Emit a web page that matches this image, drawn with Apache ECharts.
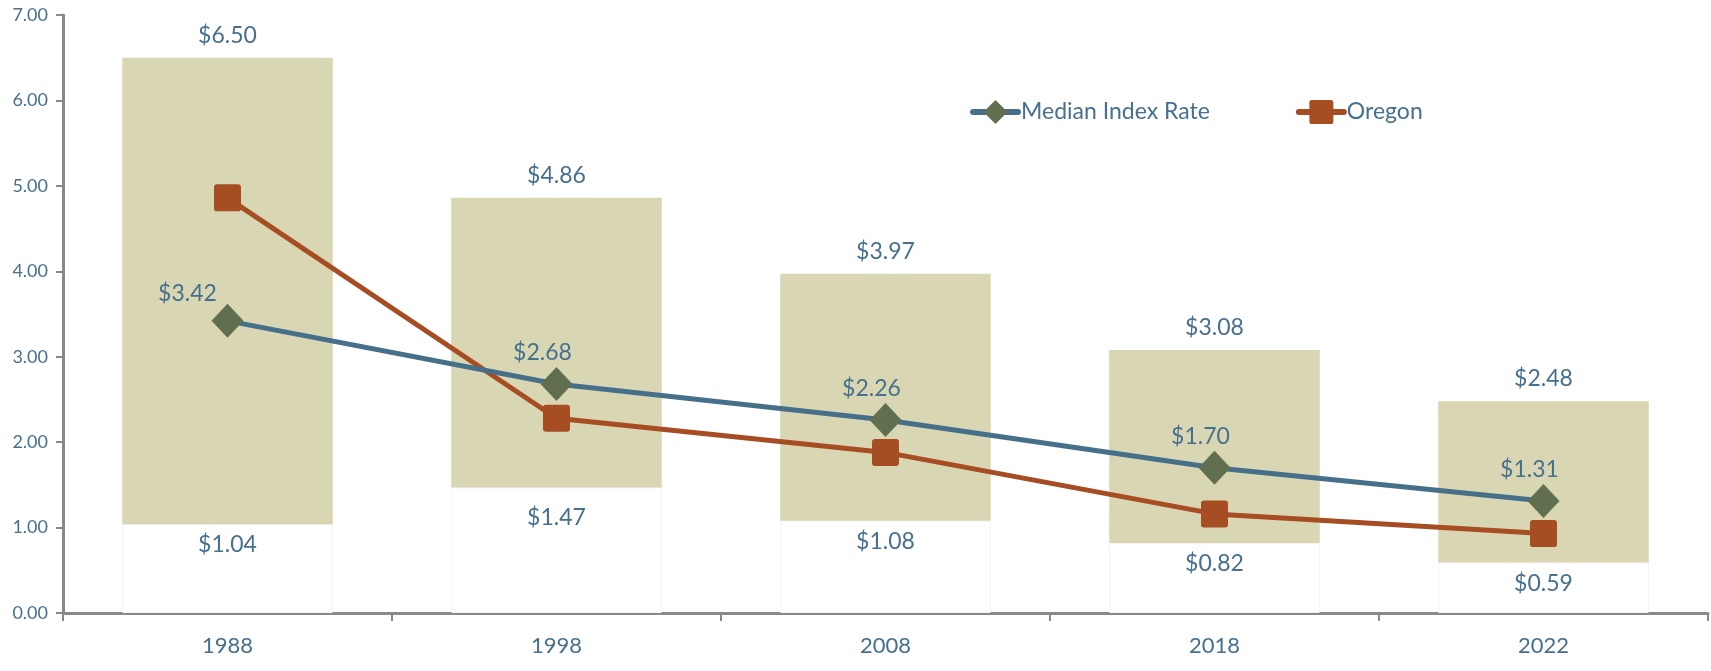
<!DOCTYPE html>
<html><head><meta charset="utf-8">
<script src="https://cdn.jsdelivr.net/npm/echarts@6/dist/echarts.min.js"></script>
<style>html,body{margin:0;padding:0;background:#fff}#c{width:1711px;height:671px}</style>
</head><body><div id="c"></div>
<script>
const categories = ['1988', '1998', '2008', '2018', '2022'];
const rangeMin = [1.04, 1.47, 1.08, 0.82, 0.59];
const rangeMax = [6.50, 4.86, 3.97, 3.08, 2.48];
const medianRate = [3.42, 2.68, 2.26, 1.70, 1.31];
const oregon = [4.86, 2.28, 1.88, 1.16, 0.93];
const yTicks = [0, 1, 2, 3, 4, 5, 6, 7];

const TXT = '#46708E';
const FONT = 'Lato';
const chart = echarts.init(document.getElementById('c'));
chart.setOption({
  animation: false,
  textStyle: { fontFamily: FONT },
  grid: { left: 63, right: 3, top: 15, bottom: 58 },
  legend: {
    data: ['Median Index Rate', 'Oregon'],
    left: 965, top: 95,
    itemWidth: 45, itemHeight: 30, itemGap: 86,
    lineStyle: { width: 6, cap: 'round' },
    textStyle: { color: TXT, fontSize: 23, fontFamily: FONT, padding: [0, 0, 0, -2] }
  },
  xAxis: {
    type: 'category', data: categories,
    axisLine: { lineStyle: { color: '#898989', width: 3 } },
    axisTick: { show: true, length: 8, lineStyle: { color: '#898989', width: 2 } },
    axisLabel: { color: TXT, fontSize: 22, margin: 22, fontFamily: FONT }
  },
  yAxis: {
    type: 'value', min: yTicks[0], max: yTicks[yTicks.length - 1], interval: 1,
    splitLine: { show: false },
    axisLine: { show: true, lineStyle: { color: '#898989', width: 3 } },
    axisTick: { show: true, length: 7, lineStyle: { color: '#898989', width: 2 } },
    axisLabel: { color: TXT, fontSize: 18, margin: 15, fontFamily: FONT, formatter: v => v.toFixed(2) }
  },
  series: [
    {
      name: 'base', type: 'bar', stack: 'r', barCategoryGap: '36%',
      data: rangeMin.map((v, i) => i === 1 ? { value: v, label: { offset: [0, 10] } } : v),
      itemStyle: { color: 'rgba(255,255,255,0)', borderColor: '#f3f3f3', borderWidth: 1 },
      label: { show: true, position: 'insideTop', distance: 9, color: TXT, fontSize: 23, fontFamily: FONT,
        formatter: p => '$' + rangeMin[p.dataIndex].toFixed(2) },
      emphasis: { disabled: true }
    },
    {
      name: 'range', type: 'bar', stack: 'r',
      data: rangeMax.map((v, i) => +(v - rangeMin[i]).toFixed(2)),
      itemStyle: { color: '#D9D7B3' },
      label: { show: true, position: 'top', distance: 11, color: TXT, fontSize: 23, fontFamily: FONT,
        formatter: p => '$' + rangeMax[p.dataIndex].toFixed(2) },
      emphasis: { disabled: true }
    },
    {
      name: 'Median Index Rate', type: 'line', z: 4,
      data: medianRate.map((v, i) => i === 0 ? { value: v, label: { offset: [-40, 10] } } : v),
      lineStyle: { color: '#46708A', width: 5 },
      symbol: 'diamond', symbolSize: [32, 34],
      itemStyle: { color: '#606F4F' },
      label: { show: true, position: 'top', distance: 9, color: TXT, fontSize: 23, fontFamily: FONT,
        formatter: p => '$' + p.value.toFixed(2), offset: [-14, 6] }
    },
    {
      name: 'Oregon', type: 'line', z: 3,
      data: oregon,
      lineStyle: { color: '#A64D24', width: 5 },
      symbol: 'path://M3,0 H25 Q28,0 28,3 V25 Q28,28 25,28 H3 Q0,28 0,25 V3 Q0,0 3,0 Z', symbolSize: 27,
      itemStyle: { color: '#A64D24' }
    }
  ]
});
</script></body></html>
